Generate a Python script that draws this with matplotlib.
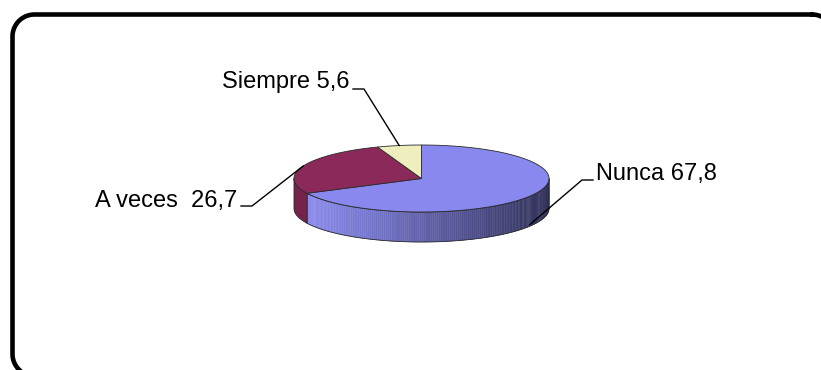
import numpy as np
import matplotlib
matplotlib.use("Agg")
import matplotlib.pyplot as plt
from matplotlib.patches import Polygon

labels = ["Nunca", "A veces", "Siempre"]
values = [67.8, 26.7, 5.6]
label_text = ["Nunca 67,8", "A veces  26,7", "Siempre 5,6"]
top_colors = ["#8888ee", "#8b2a5a", "#eeeebf"]
side_colors = ["#8888ee", "#76234c", "#c8c8a0"]

# pie geometry, in pixels
cx, cy = 421.5, 178.5
rx, ry = 127.5, 33.5
depth = 30


def pt(theta, dz=0.0):
    t = np.radians(theta)
    return cx + rx * np.cos(t), cy - ry * np.sin(t) + dz


fig = plt.figure(figsize=(8.21, 3.70), dpi=100)
ax = fig.add_axes([0, 0, 1, 1])
ax.set_xlim(0, 821)
ax.set_ylim(370, 0)
ax.axis("off")

# slice angles: start at 12 o'clock, clockwise
total = sum(values)
spans = []
start = 90.0
for v in values:
    end = start - 360.0 * v / total
    spans.append((end, start))
    start = end

edge = "#2a2a2a"

# side walls (front half only)
for i, (a0, a1) in enumerate(spans):
    lo, hi = a0 % 360, a1 % 360
    if hi <= lo:
        hi += 360
    segs = []
    for off in (0, 360, -360):
        s, e = max(lo + off, 180), min(hi + off, 360)
        if e > s:
            segs.append((s, e))
    for s, e in segs:
        th = np.linspace(s, e, 160)
        if i == 0:
            # gradient light -> dark from left to right
            c_light = np.array([140, 140, 240]) / 255
            c_dark = np.array([48, 48, 88]) / 255
            for k in range(len(th) - 1):
                x0, _ = pt(th[k])
                f = np.clip((x0 - 300) / 250, 0, 1) ** 1.1
                col = c_light * (1 - f) + c_dark * f
                quad = [pt(th[k]), pt(th[k + 1]), pt(th[k + 1], depth), pt(th[k], depth)]
                ax.add_patch(Polygon(quad, closed=True, facecolor=col,
                                     edgecolor=col, lw=0.3))
        else:
            poly = [pt(t) for t in th] + [pt(t, depth) for t in th[::-1]]
            ax.add_patch(Polygon(poly, closed=True, facecolor=side_colors[i],
                                 edgecolor="none"))
        poly = [pt(t) for t in th] + [pt(t, depth) for t in th[::-1]]
        ax.add_patch(Polygon(poly, closed=True, facecolor="none",
                             edgecolor=edge, lw=0.6))

# top faces
for i, (a0, a1) in enumerate(spans):
    th = np.linspace(a0, a1, 200)
    poly = [(cx, cy)] + [pt(t) for t in th]
    ax.add_patch(Polygon(poly, closed=True, facecolor=top_colors[i],
                         edgecolor=edge, lw=0.6))

# labels with leader lines
mids = [(a0 + a1) / 2 for a0, a1 in spans]
anchors = [pt(mids[0], depth * 0.95), pt(mids[1]), pt(mids[2])]
elbows = [(582, 180), (252, 206), (364, 89)]
txt_pos = [(596, 180, "left"), (237, 207, "right"), (350, 88, "right")]

for i in range(3):
    ax_, ay_ = anchors[i]
    ex, ey = elbows[i]
    if i == 0:
        ax.plot([ax_, ex, ex + 11], [ay_, ey, ey], color="black", lw=1.0)
    else:
        ax.plot([ax_, ex, ex - 11], [ay_, ey, ey], color="black", lw=1.0)
    tx, ty, ha = txt_pos[i]
    ax.text(tx, ty, label_text[i], ha=ha, va="baseline",
            fontsize=17, family="Liberation Sans", color="black")

# rounded frame (runs off the right and bottom edges)
x0, y0, x1, y1, r = 12.5, 14.5, 834, 376, 22
fx, fy = [], []
for (ccx, ccy, a_start) in [(x1 - r, y0 + r, 90), (x1 - r, y1 - r, 0),
                           (x0 + r, y1 - r, 270), (x0 + r, y0 + r, 180)]:
    a = np.radians(np.linspace(a_start, a_start - 90, 30))
    fx.extend(ccx + r * np.cos(a))
    fy.extend(ccy - r * np.sin(a))
fx.append(fx[0])
fy.append(fy[0])
ax.plot(fx, fy, color="black", lw=3.3, solid_capstyle="round")

fig.savefig("out.png", dpi=100)
